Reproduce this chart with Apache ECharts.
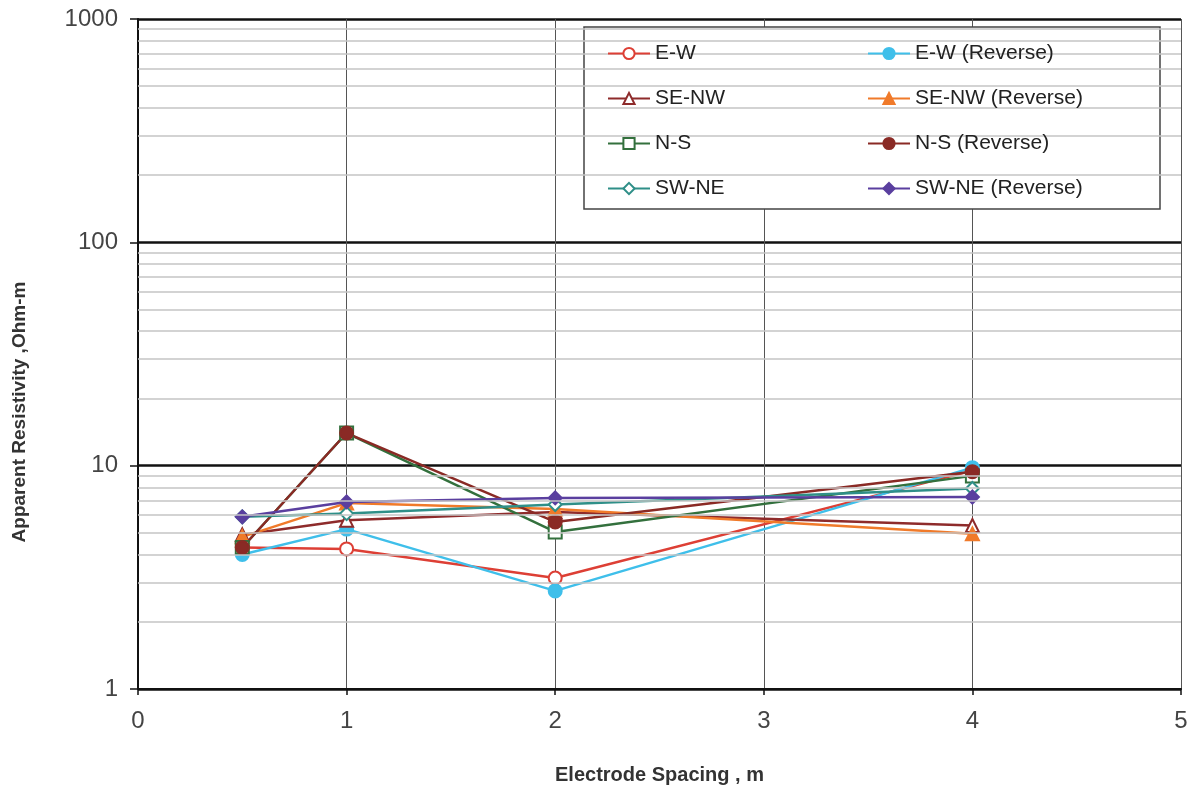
<!DOCTYPE html>
<html><head><meta charset="utf-8">
<script src="https://cdn.jsdelivr.net/npm/echarts@6/dist/echarts.min.js"></script>
<style>html,body{margin:0;padding:0;background:#fff}#c{width:1189px;height:787px}</style>
</head><body><div id="c"></div>
<script>
const spacing = [0.5, 1, 2, 4];
const ew      = [4.3, 4.24, 3.14, 9.5];
const ewRev   = [4.0, 5.2, 2.75, 9.8];
const senw    = [4.9, 5.7, 6.2, 5.4];
const senwRev = [4.8, 6.8, 6.4, 4.95];
const ns      = [4.3, 14.0, 5.05, 9.0];
const nsRev   = [4.3, 14.0, 5.6, 9.4];
const swne    = [5.9, 6.1, 6.7, 7.9];
const swneRev = [5.9, 6.88, 7.17, 7.24];
const yTicks = [1, 10, 100, 1000];
const minorGrid = [2,3,4,5,6,7,8,9,20,30,40,50,60,70,80,90,200,300,400,500,600,700,800,900];

const defs = [
  {name:'E-W', data:ew, color:'#dd3f35', symbol:'emptyCircle'},
  {name:'E-W (Reverse)', data:ewRev, color:'#3fbfea', symbol:'circle'},
  {name:'SE-NW', data:senw, color:'#8e2b2b', symbol:'emptyTriangle'},
  {name:'SE-NW (Reverse)', data:senwRev, color:'#f07a2a', symbol:'triangle'},
  {name:'N-S', data:ns, color:'#33703d', symbol:'emptyRect'},
  {name:'N-S (Reverse)', data:nsRev, color:'#8a2a25', symbol:'circle'},
  {name:'SW-NE', data:swne, color:'#2f8f88', symbol:'emptyDiamond'},
  {name:'SW-NE (Reverse)', data:swneRev, color:'#5a3f9f', symbol:'diamond'}
];

const series = defs.map(d => ({
  name: d.name, type: 'line', symbol: d.symbol, symbolSize: 13,
  data: spacing.map((x,i)=>[x, d.data[i]]),
  lineStyle: {color: d.color, width: 2.5},
  itemStyle: {color: d.color, borderColor: d.color, borderWidth: 2},
  z: 3
}));
series.unshift({
  name: 'minor', type: 'line', data: [], silent: true, z: 1,
  markLine: {silent: true, symbol: 'none', label: {show: false},
    lineStyle: {color: '#c4c4c4', width: 1.5, type: 'solid'},
    data: minorGrid.map(v => ({yAxis: v}))}
});

const legendCommon = {
  orient: 'vertical', itemWidth: 42, itemHeight: 14, itemGap: 24,
  textStyle: {fontSize: 21, color: '#222', fontFamily: 'Liberation Sans'}, z: 6
};

const chart = echarts.init(document.getElementById('c'));
chart.setOption({
  animation: false,
  backgroundColor: '#fff',
  grid: {left: 138, right: 8, top: 19, bottom: 98, outerBoundsMode: 'none', containLabel: false},
  xAxis: {
    type: 'value', min: 0, max: 5, interval: 1,
    axisLine: {lineStyle: {color: '#111', width: 2}},
    axisTick: {show: true, length: 6, lineStyle: {color: '#111', width: 1.5}},
    axisLabel: {fontSize: 24, color: '#444', margin: 20, fontFamily: 'Liberation Sans'},
    splitLine: {show: true, lineStyle: {color: '#555', width: 1}},
    name: 'Electrode Spacing , m', nameLocation: 'middle', nameGap: 76,
    nameTextStyle: {fontSize: 20, fontWeight: 'bold', color: '#333', fontFamily: 'Liberation Sans'}
  },
  yAxis: {
    type: 'log', logBase: 10, min: 1, max: 1000,
    axisLine: {show: true, lineStyle: {color: '#111', width: 2}},
    axisTick: {show: true, length: 8, lineStyle: {color: '#111', width: 1.5}},
    axisLabel: {fontSize: 24, color: '#444', margin: 20, fontFamily: 'Liberation Sans',
      formatter: v => yTicks.includes(Math.round(v)) ? String(Math.round(v)) : ''},
    splitLine: {show: true, lineStyle: {color: '#111', width: 2.5}}
  },
  legend: [
    Object.assign({left: 602, top: 38, data: ['E-W','SE-NW','N-S','SW-NE']}, legendCommon),
    Object.assign({left: 862, top: 38, data: ['E-W (Reverse)','SE-NW (Reverse)','N-S (Reverse)','SW-NE (Reverse)']}, legendCommon)
  ],
  graphic: [
    {type: 'rect', z: 5, shape: {x: 584, y: 27, width: 576, height: 182},
     style: {fill: '#fff', stroke: '#444', lineWidth: 1.5}},
    {type: 'text', z: 5, x: 20, y: 412, rotation: Math.PI/2,
     style: {text: 'Apparent Resistivity ,Ohm-m', font: 'bold 19px "Liberation Sans"', fill: '#333',
       align: 'center', verticalAlign: 'middle'}}
  ],
  series: series
});
</script></body></html>
